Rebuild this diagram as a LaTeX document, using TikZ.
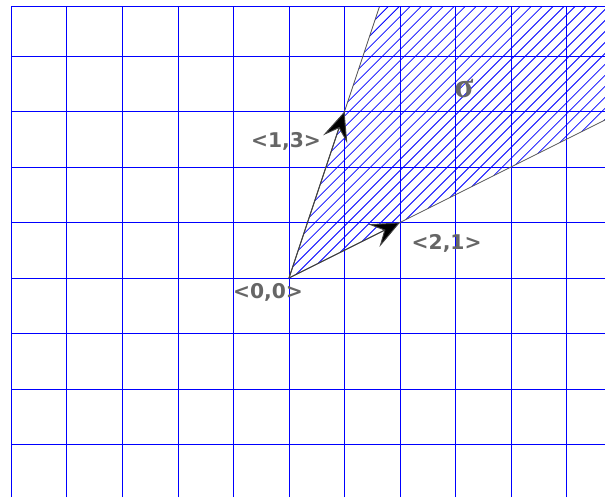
\documentclass[tikz,border=0pt]{standalone}
\usepackage{fontspec}
\newfontfamily\lblfont{DejaVu Sans}
\newfontfamily\sigfont{Liberation Serif}
\usetikzlibrary{positioning,arrows.meta}

\begin{document}
\begin{tikzpicture}[
    gridln/.style={blue, line width=0.5pt},
    hatch/.style={blue, line width=0.4pt},
    ray/.style={gray!70!black, line width=0.45pt},
    vec/.style={black!75, line width=0.5pt,
                -{Stealth[length=15pt, width=13pt, inset=6pt, fill=black]}},
    lbl/.style={font=\lblfont\bfseries\fontsize{10.4}{12}\selectfont,
                text=black!60, inner sep=0pt},
  ]
  \useasboundingbox (-5.207,-3.946) rectangle (5.694,5.009);

  % lattice
  \draw[gridln] (-5,-3.946) grid (5.694,4.883);
  \draw[gridln] (-5,4.883) -- (5.694,4.883);

  % cone sigma spanned by <1,3> and <2,1>
  \coordinate (o) at (0,0);
  \coordinate (v13) at (1,3);
  \coordinate (v21) at (2,1);
  \coordinate (r13) at (1.628,4.883);
  \coordinate (r21) at (5.694,2.847);
  \coordinate (cnr) at (5.694,4.883);
  \begin{scope}
    \clip (o) -- (r13) -- (cnr) -- (r21) -- cycle;
    \foreach \i in {0,...,34}
      \draw[hatch] ({-4.5+0.198*\i},-1) -- ++(7,7);
  \end{scope}
  \draw[ray] (o) -- (r13);
  \draw[ray] (o) -- (r21);

  % generators
  \draw[vec] (o) -- (v13);
  \draw[vec] (o) -- (v21);

  \node[lbl] (l00) at (-0.378,-0.26) {<0,0>};
  \node[lbl] (l13) at (-0.054,2.46) {<1,3>};
  \node[lbl] (l21) at (2.84,0.63) {<2,1>};
  \node[font=\sigfont\bfseries\fontsize{18}{22}\selectfont, text=black!60,
        inner sep=0pt] (sig) at (3.15,3.42) {σ};
\end{tikzpicture}
\end{document}
